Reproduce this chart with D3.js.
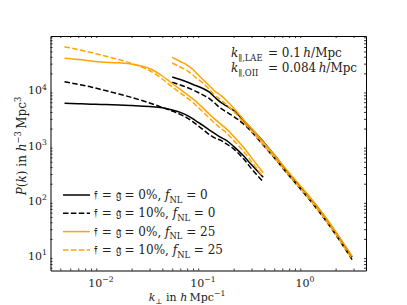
<!DOCTYPE html>
<html>
<head>
<meta charset="utf-8">
<script src="https://cdn.jsdelivr.net/npm/d3@7"></script>
<style>
body { margin: 0; background: #fff; }
text { font-family: "DejaVu Serif", serif; fill: #222; white-space: pre; }
</style>
</head>
<body>
<div id="chart"></div>
<script>
// k_perp grid of the two groups of curves
var kLow = [0.0044, 0.006, 0.008, 0.01, 0.015, 0.02, 0.03, 0.04, 0.05, 0.06, 0.07,
    0.08, 0.09, 0.1, 0.115, 0.13, 0.15, 0.17, 0.2, 0.25, 0.3, 0.39];
var kHigh = [0.05, 0.06, 0.07, 0.08, 0.09, 0.1, 0.115, 0.13, 0.15, 0.17, 0.2,
    0.25, 0.3, 0.4, 0.5, 0.7, 1.0, 1.5, 2.0, 2.9];

// P(k), f = g = 0%, fNL = 0
var pLowA = [5750, 5630, 5540, 5470, 5360, 5240, 5030, 4770, 4350, 3920, 3460,
    2990, 2580, 2280, 1890, 1635, 1384, 1221, 951, 641, 440, 262];
var pHighA = [17190, 15480, 13950, 12580, 11570, 10650, 9200, 7470, 5940, 5140, 4260,
    2810, 1970, 1100, 668, 303, 143, 56.1, 26.5, 9.36];
// f = g = 10%, fNL = 0
var pLowB = [14130, 12580, 11330, 10210, 8470, 7320, 5820, 4830, 4170, 3610, 3120,
    2640, 2230, 1930, 1570, 1355, 1221, 1055, 857, 565, 373, 217];
var pHighB = [13780, 12310, 11100, 10000, 9010, 8120, 7020, 5820, 4630, 4000, 3320,
    2430, 1740, 951, 589, 279, 129, 50.5, 23.9, 8.43];
// f = g = 0%, fNL = 25
var pLowC = [37440, 35610, 33450, 32090, 31040, 29530, 24480, 17920, 13110, 10210, 8290,
    6880, 5700, 4730, 3680, 2990, 2380, 1970, 1443, 913, 589, 316];
var pHighC = [39030, 32760, 28320, 23480, 18680, 15480, 12060, 9590, 7960, 6460, 4730,
    2900, 2000, 1078, 668, 316, 146, 57.2, 27.1, 9.75];
// f = g = 10%, fNL = 25
var pLowD = [60670, 54000, 47670, 42950, 35610, 30150, 22520, 15810, 11330, 8830, 7170,
    5940, 4830, 4000, 3120, 2530, 2010, 1670, 1221, 773, 499, 267];
var pHighD = [30780, 26050, 22520, 18680, 15480, 13380, 10420, 8120, 6600, 5470, 4090,
    2580, 1814, 971, 602, 284, 132, 51.6, 24.4, 8.61];

var fracLabels = ["0%", "10%", "0%", "10%"];
var fnlLabels = ["0", "0", "25", "25"];

var xTicks = [0.01, 0.1, 1];
var xTickExp = ["\u22122", "\u22121", "0"];
var yTicks = [10, 100, 1000, 10000];
var yTickExp = ["1", "2", "3", "4"];

var series = [
    {low: pLowA, high: pHighA, color: "#000", dash: null},
    {low: pLowB, high: pHighB, color: "#000", dash: "5.5,2.4"},
    {low: pLowC, high: pHighC, color: "orange", dash: null},
    {low: pLowD, high: pHighD, color: "orange", dash: "5.5,2.4"}
];

var width = 407, height = 305;
var padL = 50.5, padR = 366, padT = 36, padB = 270.5;
var fs = 12, tickFs = 11;

var svg = d3.select("#chart").append("svg")
    .attr("width", width)
    .attr("height", height);

var x = d3.scaleLog().domain([0.003206, 3.97]).range([padL, padR]);
var y = d3.scaleLog().domain([5.35, 95100]).range([padB, padT]);

// write text made of normal / italic / sub / sup pieces
function rich(t, parts, fs) {
    var shift = 0;
    parts.forEach(function(p) {
        var kind = p[1] || "";
        var target = kind === "sub" ? 0.3 * fs : kind === "sup" ? -0.42 * fs : 0;
        t.append("tspan")
            .attr("dy", target - shift)
            .style("font-size", (target ? 0.7 * fs : fs) + "px")
            .style("font-style", kind === "i" ? "italic" : "normal")
            .text(p[0]);
        shift = target;
    });
    return t;
}

// minor tick values
function minors(scale) {
    var d = scale.domain(), out = [];
    for (var e = Math.floor(Math.log10(d[0])); e <= Math.ceil(Math.log10(d[1])); e++) {
        for (var m = 2; m <= 9; m++) {
            var v = m * Math.pow(10, e);
            if (v >= d[0] && v <= d[1]) out.push(v);
        }
    }
    return out;
}

// lines
var line = d3.line()
    .x(d => x(d[0]))
    .y(d => y(d[1]))
    .curve(d3.curveMonotoneX);

var plot = svg.append("g");
series.forEach(function(s) {
    [[kLow, s.low], [kHigh, s.high]].forEach(function(seg) {
        plot.append("path")
            .datum(d3.zip(seg[0], seg[1]))
            .attr("d", line)
            .attr("fill", "none")
            .attr("stroke", s.color)
            .attr("stroke-width", 1.5)
            .attr("stroke-dasharray", s.dash);
    });
});

// axes, ticks pointing inward on all four sides
function addAxis(axis, tx, ty, scale) {
    var g = svg.append("g").attr("transform", "translate(" + tx + "," + ty + ")");
    g.call(axis(scale).tickValues(scale === x ? xTicks : yTicks).tickSize(-4).tickSizeOuter(0).tickFormat(""));
    g.call(axis(scale).tickValues(minors(scale)).tickSize(-2).tickSizeOuter(0).tickFormat(""));
    g.selectAll(".domain").attr("stroke", "#000").attr("stroke-width", 1);
    g.selectAll(".tick line").attr("stroke", "#000").attr("stroke-width", 0.8);
}
addAxis(d3.axisBottom, 0, padB, x);
addAxis(d3.axisTop, 0, padT, x);
addAxis(d3.axisLeft, padL, 0, y);
addAxis(d3.axisRight, padR, 0, y);

// tick labels
xTicks.forEach(function(v, i) {
    rich(svg.append("text").attr("x", x(v)).attr("y", 287).attr("text-anchor", "middle"),
        [["10"], [xTickExp[i], "sup"]], tickFs);
});
yTicks.forEach(function(v, i) {
    rich(svg.append("text").attr("x", 47).attr("y", y(v) + 4.5).attr("text-anchor", "end"),
        [["10"], [yTickExp[i], "sup"]], tickFs);
});

// axis labels
rich(svg.append("text").attr("x", 187).attr("y", 301).attr("text-anchor", "middle"),
    [["k", "i"], ["\u22a5", "sub"], [" in "], ["h", "i"], ["\u2009Mpc"], ["\u22121", "sup"]], 11);
rich(svg.append("text").attr("transform", "translate(26,146) rotate(-90)").attr("text-anchor", "middle"),
    [["P", "i"], ["("], ["k", "i"], [") in "], ["h", "i"], ["\u22123", "sup"], ["\u2009Mpc"], ["3", "sup"]], fs);

// annotation
rich(svg.append("text").attr("x", 231).attr("y", 57),
    [["k", "i"], ["\u2225,LAE", "sub"]], fs);
rich(svg.append("text").attr("x", 268).attr("y", 57),
    [["= 0.1\u2009"], ["h", "i"], ["/Mpc"]], fs);
rich(svg.append("text").attr("x", 231).attr("y", 72),
    [["k", "i"], ["\u2225,OII", "sub"]], fs);
rich(svg.append("text").attr("x", 268).attr("y", 72),
    [["= 0.084\u2009"], ["h", "i"], ["/Mpc"]], fs);

// legend
var legend = svg.selectAll(".legend")
    .data(series)
    .enter().append("g")
    .attr("class", "legend")
    .attr("transform", (d, i) => "translate(63," + (195 + i * 18.3) + ")");

legend.append("line")
    .attr("x1", 0).attr("x2", 27)
    .attr("stroke", d => d.color)
    .attr("stroke-width", 1.5)
    .attr("stroke-dasharray", d => d.dash);

legend.each(function(d, i) {
    rich(d3.select(this).append("text").attr("x", 31).attr("y", 4),
        [["\ud835\udd23 = \ud835\udd24 = " + fracLabels[i] + ", "], ["f", "i"], ["NL", "sub"], [" = " + fnlLabels[i]]], fs);
});
</script>
</body>
</html>
